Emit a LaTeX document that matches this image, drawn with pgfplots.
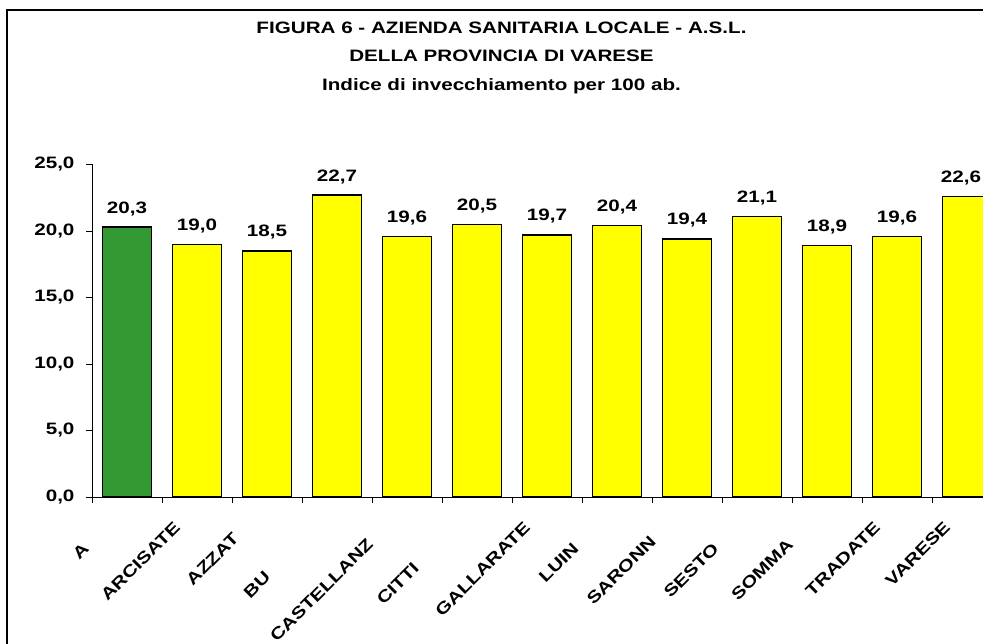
\documentclass[border=0pt]{standalone}
\usepackage{fontspec}
\setmainfont{Liberation Sans}[FakeStretch=1.25]
\usepackage{pgfplots}
\pgfplotsset{compat=1.18}

\definecolor{aslgreen}{RGB}{51,153,51}
\definecolor{barfill}{RGB}{255,255,0}
\newcommand{\lab}{\bfseries\fontsize{16.5}{19}\selectfont}

\begin{document}
\begin{tikzpicture}
% cornice
\draw[line width=1.5pt] (7pt,-20pt) -- (7pt,634pt) -- (1010pt,634pt);

% titolo
\node[anchor=base, font=\lab, inner sep=0pt] at (501.5pt,610pt) {FIGURA 6 - AZIENDA SANITARIA LOCALE - A.S.L.};
\node[anchor=base, font=\lab, inner sep=0pt] at (501.5pt,582pt) {DELLA PROVINCIA DI VARESE};
\node[anchor=base, font=\lab, inner sep=0pt] at (501.5pt,553.5pt) {Indice di invecchiamento per 100 ab.};

\begin{axis}[
    at={(92pt,147pt)}, anchor=south west,
    scale only axis, width=910pt, height=332.5pt,
    xmin=-0.5, xmax=12.5,
    ymin=0, ymax=25,
    axis x line*=bottom, axis y line*=left,
    axis line style={black, line width=0.8pt},
    tick align=outside, major tick length=6pt,
    tick style={black, line width=0.8pt},
    ytick={0,5,...,25},
    xtick={-0.5,0.5,...,12.5},
    x tick label as interval,
    xticklabels={A\kern30pt, ARCISATE, AZZAT\kern16pt, BU\kern70pt, CASTELLANZ\kern24pt,
        CITTI\kern58pt, GALLARATE, LUIN\kern30pt, SARONN\kern20pt, SESTO\kern30pt,
        SOMMA\kern24pt, TRADATE, VARESE},
    ticklabel style={font=\lab},
    xticklabel style={xshift=-17.5pt, yshift=-19pt, rotate=45, anchor=east},
    yticklabel style={xshift=-8pt, /pgf/number format/.cd, fixed, fixed zerofill, precision=1, use comma},
    /pgf/number format/assume math mode=true,
    ybar, bar width=0.7, bar shift=0pt,
    nodes near coords,
    every node near coord/.append style={font=\lab, black, anchor=base, yshift=14pt,
        /pgf/number format/.cd, fixed, fixed zerofill, precision=1, use comma},
]
\addplot[fill=aslgreen, draw=black, line width=1.5pt] coordinates {(0,20.3)};
\addplot[fill=barfill, draw=black, line width=1.5pt] coordinates {
    (1,19.0) (2,18.5) (3,22.7) (4,19.6) (5,20.5) (6,19.7)
    (7,20.4) (8,19.4) (9,21.1) (10,18.9) (11,19.6)
};
\addplot[fill=barfill, draw=black, line width=1.5pt,
    every node near coord/.append style={/tikz/xshift=-6pt}] coordinates {(12,22.6)};
\end{axis}

\pgfresetboundingbox
\path[use as bounding box] (0pt,0pt) rectangle (983pt,644pt);
\end{tikzpicture}
\end{document}
